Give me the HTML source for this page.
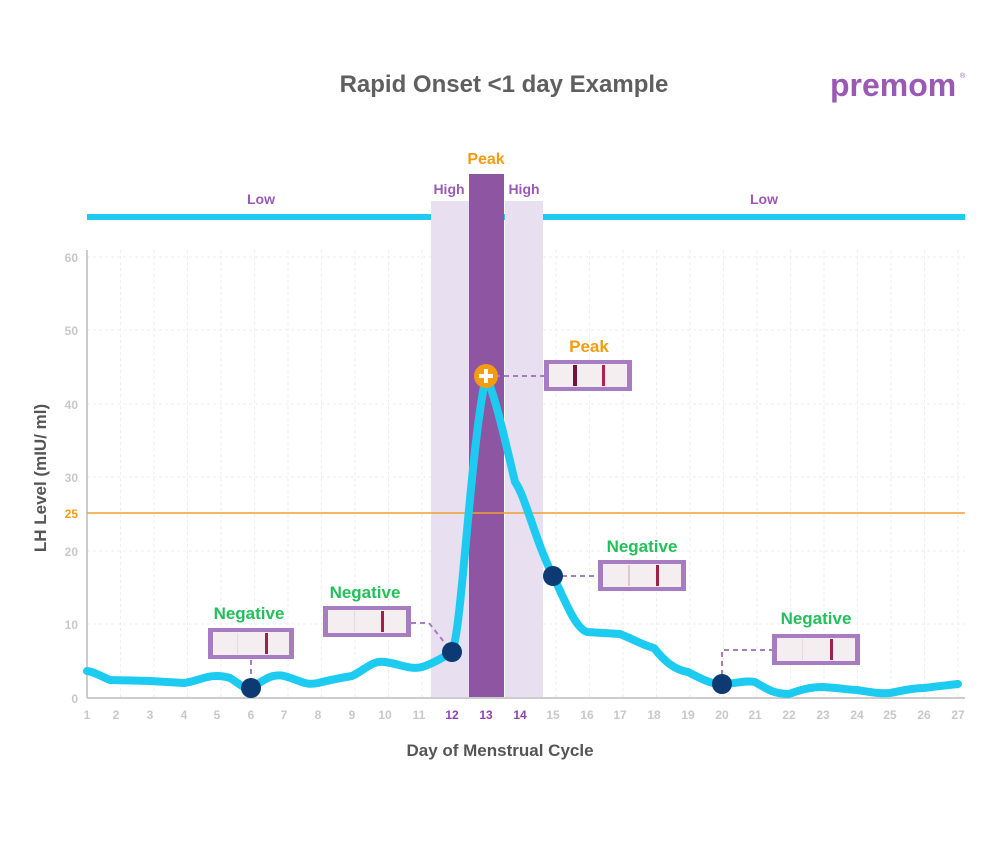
<!DOCTYPE html>
<html><head><meta charset="utf-8"><style>
body{margin:0;background:#fff;}
svg{display:block;font-family:"Liberation Sans",sans-serif;}
</style></head><body>
<svg width="1000" height="860" viewBox="0 0 1000 860">
<rect width="1000" height="860" fill="#fff"/>
<text x="504" y="92" text-anchor="middle" font-size="24" font-weight="bold" fill="#5f5f5f">Rapid Onset &lt;1 day Example</text>
<text x="830" y="96" font-size="32" font-weight="bold" fill="#9b59b6">premom</text>
<text x="960" y="78" font-size="7" fill="#9b59b6">®</text>
<g stroke="#eee" stroke-dasharray="3,3" stroke-width="1">
<line x1="87" y1="257" x2="965" y2="257"/><line x1="87" y1="330" x2="965" y2="330"/><line x1="87" y1="404" x2="965" y2="404"/><line x1="87" y1="477" x2="965" y2="477"/><line x1="87" y1="551" x2="965" y2="551"/><line x1="87" y1="624" x2="965" y2="624"/>
<line x1="120.5" y1="250" x2="120.5" y2="698"/><line x1="154" y1="250" x2="154" y2="698"/><line x1="187.5" y1="250" x2="187.5" y2="698"/><line x1="221" y1="250" x2="221" y2="698"/><line x1="254.5" y1="250" x2="254.5" y2="698"/><line x1="288" y1="250" x2="288" y2="698"/><line x1="321.5" y1="250" x2="321.5" y2="698"/><line x1="355" y1="250" x2="355" y2="698"/><line x1="388.5" y1="250" x2="388.5" y2="698"/><line x1="422" y1="250" x2="422" y2="698"/><line x1="556" y1="250" x2="556" y2="698"/><line x1="589.5" y1="250" x2="589.5" y2="698"/><line x1="623" y1="250" x2="623" y2="698"/><line x1="656.5" y1="250" x2="656.5" y2="698"/><line x1="690" y1="250" x2="690" y2="698"/><line x1="723.5" y1="250" x2="723.5" y2="698"/><line x1="757" y1="250" x2="757" y2="698"/><line x1="790.5" y1="250" x2="790.5" y2="698"/><line x1="824" y1="250" x2="824" y2="698"/><line x1="857.5" y1="250" x2="857.5" y2="698"/><line x1="891" y1="250" x2="891" y2="698"/><line x1="924.5" y1="250" x2="924.5" y2="698"/><line x1="958" y1="250" x2="958" y2="698"/>
</g>
<line x1="87" y1="217" x2="965" y2="217" stroke="#1ccbef" stroke-width="6"/>
<rect x="431" y="201" width="38" height="497" fill="#e8dff0"/>
<rect x="505" y="201" width="38" height="497" fill="#e8dff0"/>
<rect x="469" y="174" width="35" height="524" fill="#8e55a3"/>
<text x="261" y="204" text-anchor="middle" font-size="14" font-weight="bold" fill="#9b59b6">Low</text>
<text x="764" y="204" text-anchor="middle" font-size="14" font-weight="bold" fill="#9b59b6">Low</text>
<text x="449" y="194" text-anchor="middle" font-size="14" font-weight="bold" fill="#9b59b6">High</text>
<text x="524" y="194" text-anchor="middle" font-size="14" font-weight="bold" fill="#9b59b6">High</text>
<text x="486" y="164" text-anchor="middle" font-size="16" font-weight="bold" fill="#f39c12">Peak</text>
<line x1="87" y1="250" x2="87" y2="698" stroke="#ccc" stroke-width="2"/>
<line x1="87" y1="698" x2="965" y2="698" stroke="#ccc" stroke-width="2"/>
<line x1="87" y1="513" x2="965" y2="513" stroke="#f0a030" stroke-width="1.5"/>
<g font-size="12" font-weight="bold" fill="#c8c8c8" text-anchor="end">
<text x="78" y="262">60</text><text x="78" y="335">50</text><text x="78" y="409">40</text><text x="78" y="482">30</text><text x="78" y="556">20</text><text x="78" y="629">10</text><text x="78" y="703">0</text>
</g>
<text x="78" y="518" text-anchor="end" font-size="12" font-weight="bold" fill="#f39c12">25</text>
<g font-size="12" font-weight="bold" fill="#c8c8c8" text-anchor="middle">
<text x="87" y="719">1</text><text x="116" y="719">2</text><text x="150" y="719">3</text><text x="184" y="719">4</text><text x="217" y="719">5</text><text x="251" y="719">6</text><text x="284" y="719">7</text><text x="318" y="719">8</text><text x="352" y="719">9</text><text x="385" y="719">10</text><text x="419" y="719">11</text><text x="587" y="719">16</text><text x="620" y="719">17</text><text x="654" y="719">18</text><text x="688" y="719">19</text><text x="722" y="719">20</text><text x="755" y="719">21</text><text x="789" y="719">22</text><text x="823" y="719">23</text><text x="857" y="719">24</text><text x="890" y="719">25</text><text x="924" y="719">26</text><text x="958" y="719">27</text><text x="553" y="719">15</text>
<text x="452" y="719" fill="#8e44ad">12</text><text x="486" y="719" fill="#8e44ad">13</text><text x="520" y="719" fill="#8e44ad">14</text>
</g>
<text x="500" y="756" text-anchor="middle" font-size="17" font-weight="bold" fill="#555">Day of Menstrual Cycle</text>
<text transform="translate(46,478) rotate(-90)" text-anchor="middle" font-size="17" font-weight="bold" fill="#555">LH Level (mIU/ ml)</text>
<path d="M87,671 C95,672 100,676 110,680 L150,681 L184,683 C200,681 210,672 230,678 C240,684 245,690 251,688 C262,682 270,673 284,676 C300,680 305,686 318,683 C330,680 340,678 352,676 C365,670 372,660 385,662 C400,664 410,670 422,667 C435,663 445,656 452,652 C462,630 470,450 486,376 C495,395 505,440 515,482 C525,495 535,540 553,576 C565,600 575,628 587,632 L620,634 C635,640 645,646 654,648 C665,662 675,670 688,672 C700,678 710,684 722,684 C735,684 745,680 755,682 C768,690 775,694 789,694 C800,690 810,687 823,687 C840,688 850,690 857,690 C870,692 880,694 890,693 C905,690 915,688 924,688 C940,686 950,685 958,684" fill="none" stroke="#1ccbef" stroke-width="8" stroke-linejoin="round" stroke-linecap="round"/>
<g stroke="#a87cc0" stroke-width="2" stroke-dasharray="5,4" fill="none">
<line x1="251" y1="660" x2="251" y2="688"/>
<polyline points="411,623 429,623 452,652"/>
<line x1="486" y1="376" x2="546" y2="376"/>
<line x1="553" y1="576" x2="600" y2="576"/>
<polyline points="722,684 722,650 775,650"/>
</g>
<g>
<rect x="208" y="628" width="86" height="31" fill="#a87cc0"/><rect x="213" y="632" width="76" height="23" fill="#f4eef0"/><rect x="265" y="633" width="3" height="21" fill="#a0204a"/><rect x="237" y="633" width="1" height="21" fill="#ddd"/>
<rect x="323" y="606" width="88" height="31" fill="#a87cc0"/><rect x="328" y="610" width="78" height="23" fill="#f4eef0"/><rect x="381" y="611" width="3" height="21" fill="#a0204a"/><rect x="354" y="611" width="1" height="21" fill="#ddd"/>
<rect x="544" y="360" width="88" height="31" fill="#a87cc0"/><rect x="549" y="364" width="78" height="23" fill="#f4eef0"/><rect x="573" y="365" width="4" height="21" fill="#7a1040"/><rect x="602" y="365" width="3" height="21" fill="#b02050"/>
<rect x="598" y="560" width="88" height="31" fill="#a87cc0"/><rect x="603" y="564" width="78" height="23" fill="#f4eef0"/><rect x="656" y="565" width="3" height="21" fill="#a0204a"/><rect x="628" y="565" width="2" height="21" fill="#e0c8d0"/>
<rect x="772" y="634" width="88" height="31" fill="#a87cc0"/><rect x="777" y="638" width="78" height="23" fill="#f4eef0"/><rect x="830" y="639" width="3" height="21" fill="#a0204a"/><rect x="802" y="639" width="1" height="21" fill="#ddd"/>
</g>
<g font-size="17" font-weight="bold" fill="#22c05a" text-anchor="middle">
<text x="249" y="619">Negative</text><text x="365" y="598">Negative</text><text x="642" y="552">Negative</text><text x="816" y="624">Negative</text>
</g>
<text x="589" y="352" text-anchor="middle" font-size="17" font-weight="bold" fill="#f39c12">Peak</text>
<g fill="#0d3a73">
<circle cx="251" cy="688" r="10"/><circle cx="452" cy="652" r="10"/><circle cx="553" cy="576" r="10"/><circle cx="722" cy="684" r="10"/>
</g>
<circle cx="486" cy="376" r="12" fill="#f39c12"/>
<rect x="484" y="369" width="4" height="14" fill="#fff"/><rect x="479" y="374" width="14" height="4" fill="#fff"/>
</svg>
</body></html>
